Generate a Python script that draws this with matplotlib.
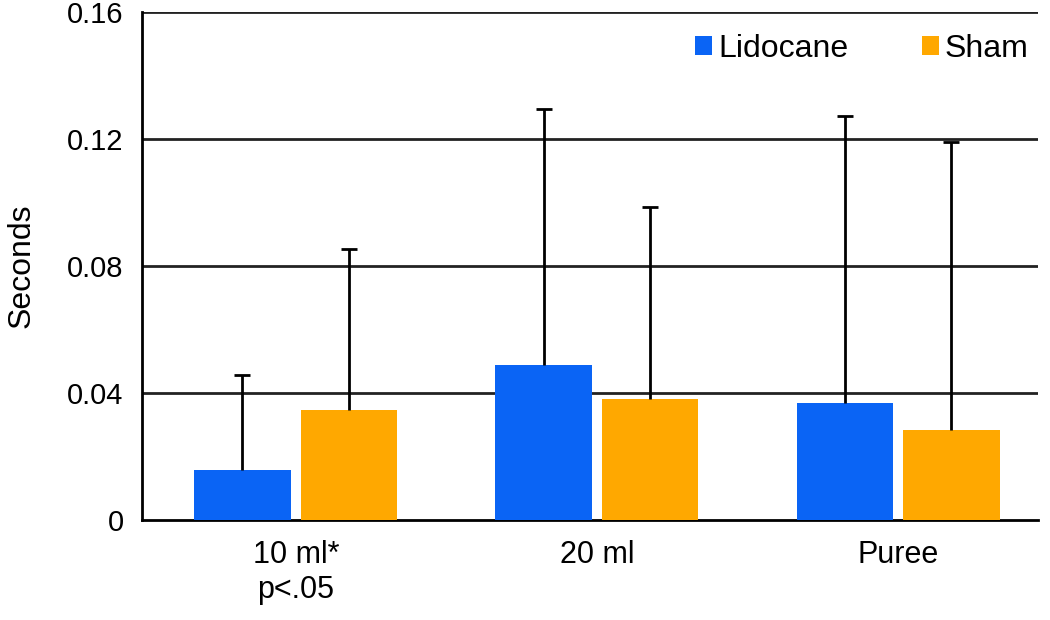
import numpy as np
import matplotlib.pyplot as plt

plt.rcParams['font.family'] = ['Liberation Sans', 'DejaVu Sans']

categories = ['10 ml*\np<.05', '20 ml', 'Puree']
lidocane = [0.0157, 0.0488, 0.0369]
lidocane_err = [0.0300, 0.0806, 0.0903]
sham = [0.0346, 0.0381, 0.0283]
sham_err = [0.0508, 0.0605, 0.0907]

fig = plt.figure(figsize=(10.5, 6.2), dpi=100)
ax = fig.add_axes([0.135, 0.161, 0.854, 0.820])

x = np.arange(len(categories))
w = 0.32
ekw = dict(ecolor='black', elinewidth=2, capsize=5.5, capthick=2)
b1 = ax.bar(x - 0.178, lidocane, w, color='#0a64f5', label='Lidocane', zorder=3,
            yerr=[np.zeros(3), lidocane_err], error_kw=ekw)
b2 = ax.bar(x + 0.176, sham, w, color='#ffa800', label='Sham', zorder=3,
            yerr=[np.zeros(3), sham_err], error_kw=ekw)
# only upper whiskers: hide the caps sitting on the bar tops
for b in (b1, b2):
    caps = b.errorbar.lines[1]
    caps[0].set_visible(False)

ax.set_ylim(0, 0.16)
ax.set_xlim(-0.512, 2.465)
ax.set_yticks([0, 0.04, 0.08, 0.12, 0.16])
ax.set_yticklabels(['0', '0.04', '0.08', '0.12', '0.16'])
ax.set_xticks(x)
ax.set_xticklabels(categories, linespacing=1.25, fontsize=22)
ax.tick_params(axis='y', length=0, labelsize=21, pad=13)
ax.tick_params(axis='x', length=0, pad=14)
ax.set_ylabel('Seconds', fontsize=23, labelpad=22)

for y in [0.04, 0.08, 0.12, 0.16]:
    ax.axhline(y, color='#222222', lw=2, zorder=1)

for s in ['top', 'right']:
    ax.spines[s].set_visible(False)
ax.spines['left'].set_linewidth(2)
ax.spines['bottom'].set_linewidth(2)

ax.legend(loc='upper right', bbox_to_anchor=(1.0, 0.975), ncol=2, frameon=False,
          fontsize=23, handlelength=0.53, handleheight=0.53, handletextpad=0.2,
          columnspacing=2.3, borderpad=0.1, borderaxespad=0.2)

fig.savefig('out.png')
